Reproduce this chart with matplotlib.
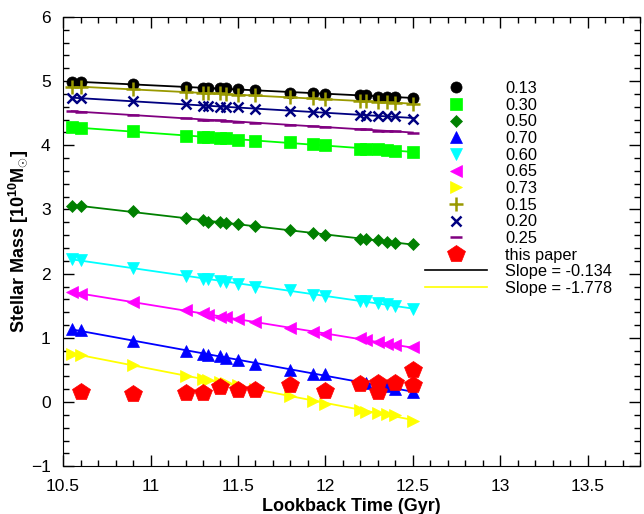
import numpy as np
import matplotlib
matplotlib.use("Agg")
import matplotlib.pyplot as plt
from matplotlib.ticker import MultipleLocator
from matplotlib.lines import Line2D

plt.rcParams['font.family'] = ['Liberation Sans', 'DejaVu Sans']
plt.rcParams['mathtext.fontset'] = 'custom'
plt.rcParams['mathtext.rm'] = 'Liberation Sans'
plt.rcParams['mathtext.bf'] = 'Liberation Sans:bold'

# lookback time of the model snapshots (Gyr)
t = [10.55, 10.6, 10.9, 11.2, 11.3, 11.33, 11.4, 11.43, 11.5, 11.6,
     11.8, 11.93, 12.0, 12.2, 12.23, 12.3, 12.35, 12.4, 12.5]

m013 = [4.99, 4.99, 4.95, 4.91, 4.89, 4.89, 4.89, 4.89, 4.87, 4.86,
        4.82, 4.81, 4.80, 4.78, 4.78, 4.76, 4.76, 4.76, 4.73]
m030 = [4.28, 4.27, 4.22, 4.15, 4.13, 4.13, 4.11, 4.11, 4.09, 4.07,
        4.05, 4.02, 4.00, 3.95, 3.95, 3.94, 3.93, 3.91, 3.89]
m050 = [3.06, 3.06, 2.97, 2.86, 2.83, 2.81, 2.81, 2.79, 2.77, 2.75,
        2.68, 2.64, 2.61, 2.54, 2.54, 2.52, 2.49, 2.48, 2.46]
m070 = [1.14, 1.12, 0.95, 0.80, 0.75, 0.74, 0.71, 0.69, 0.66, 0.60,
        0.50, 0.44, 0.43, 0.31, 0.29, 0.27, 0.25, 0.21, 0.15]
m060 = [2.23, 2.21, 2.09, 1.96, 1.92, 1.92, 1.89, 1.87, 1.84, 1.80,
        1.74, 1.67, 1.65, 1.58, 1.57, 1.54, 1.52, 1.50, 1.45]
m065 = [1.71, 1.69, 1.56, 1.43, 1.38, 1.36, 1.33, 1.32, 1.30, 1.25,
        1.15, 1.09, 1.06, 0.99, 0.96, 0.93, 0.91, 0.89, 0.86]
m073 = [0.75, 0.73, 0.57, 0.40, 0.36, 0.34, 0.31, 0.30, 0.27, 0.21,
        0.09, 0.01, -0.03, -0.13, -0.15, -0.17, -0.18, -0.21, -0.29]
m015 = [4.91, 4.91, 4.87, 4.83, 4.82, 4.81, 4.81, 4.80, 4.79, 4.78,
        4.75, 4.73, 4.72, 4.69, 4.69, 4.67, 4.67, 4.66, 4.64]
m020 = [4.73, 4.73, 4.69, 4.65, 4.62, 4.62, 4.60, 4.60, 4.60, 4.57,
        4.53, 4.52, 4.52, 4.48, 4.46, 4.46, 4.45, 4.45, 4.41]
m025 = [4.53, 4.52, 4.47, 4.42, 4.40, 4.40, 4.39, 4.38, 4.37, 4.35,
        4.32, 4.30, 4.29, 4.25, 4.25, 4.23, 4.22, 4.22, 4.19]

# this paper
t_obs = [10.6, 10.9, 11.2, 11.3, 11.4, 11.5, 11.6, 11.8, 12.0, 12.2,
         12.3, 12.3, 12.4, 12.5, 12.5]
m_obs = [0.16, 0.12, 0.14, 0.14, 0.23, 0.19, 0.19, 0.26, 0.17, 0.28,
         0.29, 0.15, 0.30, 0.50, 0.26]

series = [
    ("0.13", m013, "black", "o", 8),
    ("0.30", m030, "#00ff00", "s", 8.5),
    ("0.50", m050, "green", "D", 6.5),
    ("0.70", m070, "blue", "^", 8.5),
    ("0.60", m060, "cyan", "v", 8.5),
    ("0.65", m065, "magenta", "<", 8.5),
    ("0.73", m073, "yellow", ">", 8.5),
    ("0.15", m015, "#999900", "+", 10),
    ("0.20", m020, "navy", "x", 7.5),
    ("0.25", m025, "purple", "_", 8),
]

fig = plt.figure(figsize=(6.44, 5.14), dpi=100)
ax = fig.add_axes([0.098, 0.093, 0.896, 0.874])

tt = np.array(t)
handles = []
for lab, m, col, mk, ms in series:
    p = np.polyfit(tt, m, 1)
    xs = np.array([tt[0], tt[-1]])
    ax.plot(xs, np.polyval(p, xs), color=col, lw=1.3, zorder=2)
    h, = ax.plot(t, m, ls='none', marker=mk, color=col, ms=ms,
                 mew=1.8 if mk in "+x_" else 0.5, zorder=3, label=lab)
    handles.append(h)

h, = ax.plot(t_obs, m_obs, ls='none', marker='p', color='red', ms=13,
             mew=0.5, zorder=4, label="this paper")
handles.append(h)
handles.append(Line2D([], [], color='black', lw=1.2, label="Slope = -0.134"))
handles.append(Line2D([], [], color='yellow', lw=1.2, label="Slope = -1.778"))

ax.legend(handles=handles, loc='upper left', bbox_to_anchor=(0.627, 0.857),
          frameon=False, fontsize=11.8, handlelength=3.8, handletextpad=1.1,
          labelspacing=0.1, borderpad=0, borderaxespad=0, numpoints=1)

ax.set_xlim(10.5, 13.8)
ax.set_ylim(-1, 6)
ax.xaxis.set_major_locator(MultipleLocator(0.5))
ax.xaxis.set_minor_locator(MultipleLocator(0.1))
ax.yaxis.set_major_locator(MultipleLocator(1))
ax.yaxis.set_minor_locator(MultipleLocator(0.2))
ax.xaxis.set_major_formatter(plt.FuncFormatter(lambda v, _: f"{v:g}"))
ax.yaxis.set_major_formatter(plt.FuncFormatter(lambda v, _: f"{v:g}".replace("-", "\u2212")))
ax.tick_params(which='both', direction='in', top=True, right=True, labelsize=12.5)
ax.tick_params(which='major', length=8, width=1)
ax.tick_params(which='minor', length=4, width=1)
ax.tick_params(axis='x', which='major', pad=9)
ax.tick_params(axis='y', which='major', pad=9)

ax.set_xlabel("Lookback Time (Gyr)", fontsize=13, fontweight='bold', labelpad=3)
ax.set_ylabel(r"Stellar Mass [10$^{\mathbf{10}}$M$_{\odot}$]", fontsize=13,
              fontweight='bold')
ax.yaxis.set_label_coords(-0.058, 0.5)

fig.savefig("out.png", dpi=100)
